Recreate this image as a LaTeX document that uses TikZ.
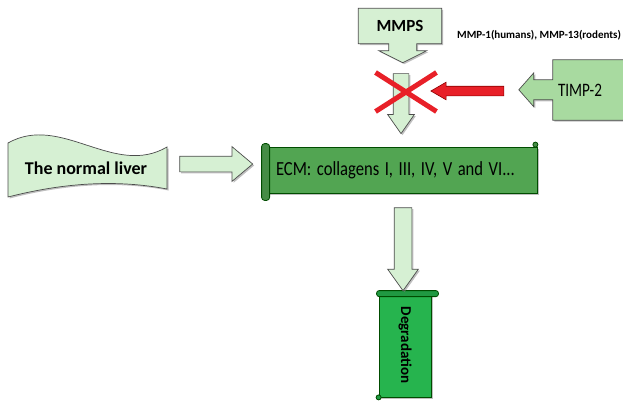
\documentclass[tikz,border=0pt]{standalone}
\usepackage{fontspec}
\setmainfont{Carlito}
\usepackage{graphicx}
\usetikzlibrary{shapes.arrows,shapes.misc,shadows,backgrounds,calc}
\definecolor{palegreen}{RGB}{214,240,211}
\definecolor{timpgreen}{RGB}{168,218,160}
\definecolor{ecmgreen}{RGB}{82,165,82}
\definecolor{deggreen}{RGB}{38,180,78}
\definecolor{xred}{RGB}{232,32,40}
\begin{document}
\begin{tikzpicture}[x=1pt,y=-1pt,
    ink/.style={draw=black!70,line width=.7pt},
    shadowed/.style={drop shadow={shadow xshift=1.5pt,shadow yshift=-1.5pt,fill=black!50}},
    blockarrow/.style={single arrow,ink,shadowed,fill=palegreen,inner xsep=0pt},
    downarrow/.style={blockarrow,shape border rotate=270,inner ysep=0pt},
    scroll/.style={draw=black!70!green,line width=.8pt},
    txt/.style={inner sep=0pt,font=\bfseries},
]
\useasboundingbox (0,0) rectangle (623,402);

% texts first, their shapes go behind
\node[txt,font=\bfseries\fontsize{18}{20}\selectfont] (liver) at (86,168) {The normal liver};
\node[txt,minimum width=83,minimum height=35,font=\bfseries\fontsize{17}{19}\selectfont] (mmps) at (400,26) {MMPS};
\node[txt,anchor=west,font=\bfseries\fontsize{11}{13}\selectfont] (kinds) at (457,35) {MMP-1(humans), MMP-13(rodents)};
\node[txt,minimum width=54,minimum height=60,font=\fontsize{19}{21}\selectfont] (timp) at (580,90) {\scalebox{.8}[1]{TIMP-2}};

\begin{scope}[on background layer]
  \draw[ink,shadowed,fill=palegreen] (8,143) .. controls (61,113) and (114,178) .. (167,147)
    -- (167,189) .. controls (110,178) and (55,185) .. (8,197) -- cycle;
  \draw[ink,shadowed,fill=palegreen] (mmps.north west) -- (mmps.north east) -- (mmps.south east)
    -- ++(-25,0) -- ++(0,7) -- ++(10,0) -- ++(-24,12) -- ++(-24,-12) -- ++(10,0) -- ++(0,-7)
    -- (mmps.south west) -- cycle;
  \draw[ink,shadowed,fill=timpgreen] (timp.north west) ++(75,0) -- (timp.north west) -- ++(0,20)
    -- ++(-19,0) -- ++(0,-7) -- ++(-15,17) -- ++(15,17) -- ++(0,-7) -- ++(19,0)
    -- (timp.south west) -- ++(75,0) -- cycle;
\end{scope}

% scrolls
\node[scroll,shadowed,fill=ecmgreen,minimum width=272,minimum height=46,inner xsep=11pt,
  text width=250pt,align=left,font=\fontsize{20}{22}\selectfont] (ecm) at (401,170)
  {\scalebox{.83}[1]{ECM: collagens I, III, IV, V and VI...}};
\draw[scroll,fill=ecmgreen!85!black,rounded corners=3pt] ([xshift=-3pt,yshift=3pt]ecm.north west)
  rectangle ([xshift=5pt,yshift=-7pt]ecm.south west);
\draw[scroll,fill=ecmgreen!85!black] ([xshift=-2pt,yshift=2pt]ecm.north east) circle (2.5pt);

\node[scroll,shadowed,fill=deggreen,rotate=-90,minimum width=104,minimum height=52,
  font=\bfseries\fontsize{15}{17}\selectfont] (deg) at (405,345) {Degradation};
\draw[scroll,fill=deggreen!85!black,rounded corners=2.5pt] ([xshift=-2pt,yshift=2pt]deg.south west)
  rectangle ([xshift=7pt,yshift=-4pt]deg.north west);
\draw[scroll,fill=deggreen!85!black] (deg.south east) circle (2.5pt);

% block arrows
\node[blockarrow,minimum height=73,inner ysep=7.5pt,single arrow head extend=9.5pt,
  single arrow tip angle=80] (feed) at (211.5,164) {};
\node[downarrow,minimum height=60,inner xsep=7.5pt,
  single arrow head extend=5.5pt,single arrow tip angle=70] (cut) at (401,98) {};
\node[downarrow,minimum height=83,inner xsep=8.5pt,
  single arrow head extend=6.5pt,single arrow tip angle=71] (down) at ($(ecm.south)!.5!(deg.west)$) {};

% blocked by TIMP-2
\node[cross out,draw=xred,line width=5pt,minimum width=56,minimum height=34] (stop) at (406,92) {};
\node[single arrow,shape border rotate=180,fill=xred,draw=red!55!black,line width=.6pt,
  inner xsep=0pt,inner ysep=4.5pt,minimum height=73,single arrow head extend=4pt,
  single arrow tip angle=60] (inhibit) at (471.5,91) {};
\end{tikzpicture}
\end{document}
